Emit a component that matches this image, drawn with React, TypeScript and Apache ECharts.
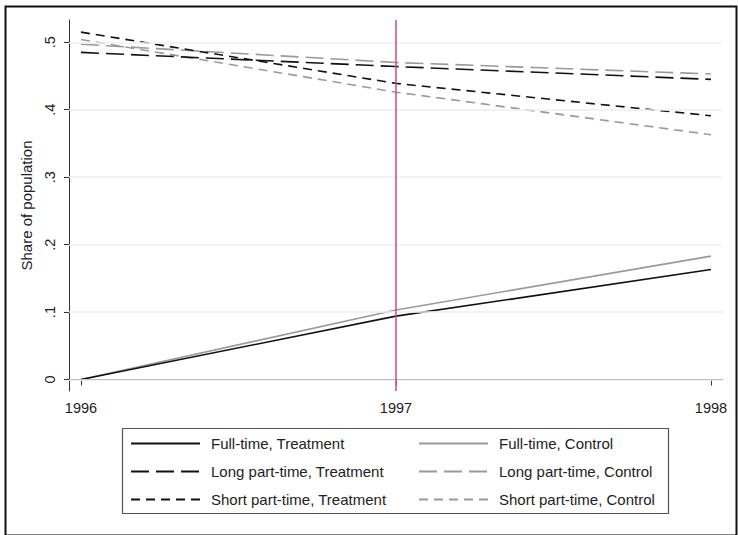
import React, { useEffect, useRef } from "react";
import * as echarts from "echarts";

const years = [1996, 1997, 1998];
const fullTimeTreatment = [0, 0.094, 0.163];
const fullTimeControl = [0, 0.103, 0.183];
const longPartTreatment = [0.485, 0.464, 0.445];
const longPartControl = [0.497, 0.47, 0.453];
const shortPartTreatment = [0.515, 0.439, 0.391];
const shortPartControl = [0.504, 0.426, 0.363];
const yTicks = [0, 0.1, 0.2, 0.3, 0.4, 0.5];
const treatmentNames = ["Full-time, Treatment", "Long part-time, Treatment", "Short part-time, Treatment"];
const controlNames = ["Full-time, Control", "Long part-time, Control", "Short part-time, Control"];
const policyYear = 1997;

const FONT = "'Liberation Sans', Arial, sans-serif";

function pairs(vals: number[]) {
  return years.map((y, i) => [y, vals[i]]);
}

export default function App() {
  const ref = useRef<HTMLDivElement>(null);
  useEffect(() => {
    if (!ref.current) return;
    const chart = echarts.init(ref.current, null, { renderer: "svg" });
    const black = "#111111";
    const gray = "#9a9a9a";
    const longDash = [18, 7];
    const shortDash = [9, 6];
    const mk = (name: string, vals: number[], color: string, type: any, z = 3) => ({
      name,
      type: "line",
      data: pairs(vals),
      symbol: "none",
      z,
      lineStyle: { color, width: 1.6, type },
      itemStyle: { color },
    });
    const series: any[] = [
      {
        name: "_grid",
        type: "line",
        data: [],
        z: 1,
        markLine: {
          silent: true,
          symbol: "none",
          label: { show: false },
          lineStyle: { color: "#e9eff6", width: 1.5, type: "solid" },
          data: yTicks.map((v) => ({ yAxis: v })),
        },
      },
      mk(treatmentNames[0], fullTimeTreatment, black, "solid"),
      mk(treatmentNames[1], longPartTreatment, black, longDash),
      mk(treatmentNames[2], shortPartTreatment, black, shortDash),
      mk(controlNames[0], fullTimeControl, gray, "solid", 2),
      mk(controlNames[1], longPartControl, gray, longDash, 2),
      mk(controlNames[2], shortPartControl, gray, shortDash, 2),
      {
        name: "_policy",
        type: "line",
        data: [],
        z: 5,
        markLine: {
          silent: true,
          symbol: "none",
          label: { show: false },
          lineStyle: { color: "#c9506f", width: 1.5, type: "solid" },
          data: [{ xAxis: policyYear }],
        },
      },
    ];
    const legendCommon = {
      orient: "vertical",
      top: 431,
      itemWidth: 69,
      itemHeight: 14,
      itemGap: 13,
      selectedMode: false,
      itemStyle: { opacity: 0 },
      textStyle: { fontFamily: FONT, fontSize: 15, lineHeight: 14, color: "#222", padding: [0, 0, 0, 6] },
    };
    chart.setOption({
      animation: false,
      backgroundColor: "#ffffff",
      grid: { left: 69, right: 16, top: 20, bottom: 144 },
      xAxis: {
        type: "value",
        min: 1995.962,
        max: 1998.035,
        axisLine: { show: true, lineStyle: { color: "#333", width: 1 } },
        axisTick: { show: true, length: 6, lineStyle: { color: "#333" }, customValues: years },
        axisLabel: {
          customValues: years,
          fontFamily: FONT,
          fontSize: 14.5,
          color: "#222",
          margin: 9,
          formatter: (v: number) => String(Math.round(v)),
        },
        splitLine: { show: false },
      },
      yAxis: {
        type: "value",
        min: -0.017,
        max: 0.533,
        name: "Share of population",
        nameLocation: "middle",
        nameGap: 35,
        nameRotate: 90,
        nameTextStyle: { fontFamily: FONT, fontSize: 15, color: "#222" },
        axisLine: { show: true, lineStyle: { color: "#333", width: 1 } },
        axisTick: { show: true, length: 5, lineStyle: { color: "#333" }, customValues: yTicks },
        axisLabel: {
          customValues: yTicks,
          rotate: 90,
          fontFamily: FONT,
          fontSize: 14.5,
          color: "#222",
          margin: 12,
          formatter: (v: number) => (Math.abs(v) < 1e-9 ? "0" : "." + Math.round(v * 10)),
        },
        splitLine: { show: false },
      },
      legend: [
        { ...legendCommon, left: 125, data: treatmentNames },
        { ...legendCommon, left: 413, data: controlNames },
      ],
      graphic: [
        {
          type: "rect",
          left: 3,
          top: 4,
          shape: { x: 0, y: 0, width: 731, height: 529 },
          style: { fill: "none", stroke: "#111", lineWidth: 2 },
          silent: true,
        },
        {
          type: "rect",
          shape: { x: 122.5, y: 428.5, width: 546, height: 85 },
          style: { fill: "none", stroke: "#555", lineWidth: 1.2 },
          silent: true,
        },
      ],
      series,
    });
    return () => chart.dispose();
  }, []);
  return (
    <div
      ref={ref}
      style={{ position: "fixed", left: 0, top: 0, width: 738, height: 535, background: "#fff" }}
    />
  );
}
